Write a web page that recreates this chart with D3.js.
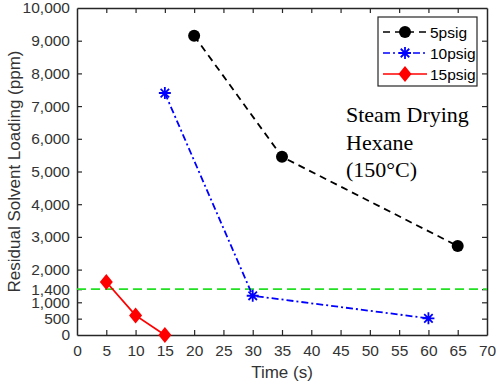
<!DOCTYPE html>
<html>
<head>
<meta charset="utf-8">
<script src="https://cdn.jsdelivr.net/npm/d3@7"></script>
<style>
  body { margin: 0; background: #fff; }
  svg { display: block; }
</style>
</head>
<body>
<svg id="chart"></svg>
<script>
const seriesNames = ["5psig", "10psig", "15psig"];
const time5 = [20, 35, 65];
const ppm5 = [9150, 5450, 2720];
const time10 = [15, 30, 60];
const ppm10 = [7400, 1200, 510];
const time15 = [5, 10, 15];
const ppm15 = [1620, 600, 0];
const limitPpm = 1400;
const xTicks = [0, 5, 10, 15, 20, 25, 30, 35, 40, 45, 50, 55, 60, 65, 70];
const yTicks = [0, 500, 1000, 1400, 2000, 3000, 4000, 5000, 6000, 7000, 8000, 9000, 10000];

const width = 498, height = 384;
const margin = { top: 8, right: 11, bottom: 49, left: 77 };

const svg = d3.select("#chart").attr("width", width).attr("height", height);

const x = d3.scaleLinear().domain([0, 70]).range([margin.left, width - margin.right]);
const y = d3.scaleLinear().domain([0, 10000]).range([height - margin.bottom, margin.top]);

const axisColor = "#262626";
const sans = "Arial, 'Liberation Sans', sans-serif";
const fmt = d3.format(",");

// box axes
const gx = svg.append("g").attr("transform", `translate(0,${y(0)})`)
  .call(d3.axisBottom(x).tickValues(xTicks).tickSizeInner(-5).tickSizeOuter(0).tickPadding(10));
const gxTop = svg.append("g").attr("transform", `translate(0,${y(10000)})`)
  .call(d3.axisTop(x).tickValues(xTicks).tickSizeInner(-5).tickSizeOuter(0).tickFormat(""));
const gy = svg.append("g").attr("transform", `translate(${x(0)},0)`)
  .call(d3.axisLeft(y).tickValues(yTicks).tickSizeInner(-5).tickSizeOuter(0).tickPadding(7).tickFormat(fmt));
const gyRight = svg.append("g").attr("transform", `translate(${x(70)},0)`)
  .call(d3.axisRight(y).tickValues(yTicks).tickSizeInner(-5).tickSizeOuter(0).tickFormat(""));

[gx, gxTop, gy, gyRight].forEach(g => {
  g.select(".domain").attr("stroke", axisColor).attr("stroke-width", 1.5);
  g.selectAll(".tick line").attr("stroke", axisColor).attr("stroke-width", 1.2);
  g.selectAll("text").attr("fill", "#333").style("font-family", sans).style("font-size", "15.5px");
});
gy.selectAll(".tick").filter(d => d === 0 || d === 10000).select("line").remove();
gyRight.selectAll(".tick").filter(d => d === 0 || d === 10000).select("line").remove();
gx.selectAll(".tick").filter(d => d === 0 || d === 70).select("line").remove();
gxTop.selectAll(".tick").filter(d => d === 0 || d === 70).select("line").remove();

// axis titles
svg.append("text")
  .attr("x", x(35)).attr("y", 378)
  .attr("text-anchor", "middle")
  .attr("fill", "#333")
  .style("font-family", sans).style("font-size", "17px")
  .text("Time (s)");
svg.append("text")
  .attr("transform", `translate(20,${(y(0) + y(10000)) / 2}) rotate(-90)`)
  .attr("text-anchor", "middle")
  .attr("fill", "#333")
  .style("font-family", sans).style("font-size", "17px")
  .text("Residual Solvent Loading (ppm)");

// limit line
svg.append("line")
  .attr("x1", x(0)).attr("x2", x(70))
  .attr("y1", y(limitPpm)).attr("y2", y(limitPpm))
  .attr("stroke", "#22e022").attr("stroke-width", 1.7)
  .attr("stroke-dasharray", "9,5");

const series = [
  { name: seriesNames[0], t: time5, v: ppm5, color: "#000", dash: "7,5", marker: "circle" },
  { name: seriesNames[1], t: time10, v: ppm10, color: "#0000ff", dash: "7,3,2,3", marker: "star" },
  { name: seriesNames[2], t: time15, v: ppm15, color: "#ff0000", dash: null, marker: "diamond" }
];

const line = d3.line().x(d => x(d[0])).y(d => y(d[1]));

function drawMarker(g, type, color) {
  if (type === "circle") {
    g.append("circle").attr("r", 6).attr("fill", color);
  } else if (type === "diamond") {
    g.append("path").attr("d", "M0,-8L6.5,0L0,8L-6.5,0Z").attr("fill", color);
  } else {
    const s = 6;
    const p = [];
    for (let i = 0; i < 4; i++) {
      const a = i * Math.PI / 4;
      p.push(`M${-s * Math.cos(a)},${-s * Math.sin(a)}L${s * Math.cos(a)},${s * Math.sin(a)}`);
    }
    g.append("path").attr("d", p.join("")).attr("stroke", color).attr("stroke-width", 1.8).attr("fill", "none");
  }
}

series.forEach(s => {
  const pts = s.t.map((t, i) => [t, s.v[i]]);
  svg.append("path")
    .datum(pts)
    .attr("d", line)
    .attr("fill", "none")
    .attr("stroke", s.color)
    .attr("stroke-width", 1.8)
    .attr("stroke-dasharray", s.dash);
  pts.forEach(p => {
    const g = svg.append("g").attr("transform", `translate(${x(p[0])},${y(p[1])})`);
    drawMarker(g, s.marker, s.color);
  });
});

// legend
const lg = svg.append("g").attr("transform", "translate(378,17)");
lg.append("rect").attr("width", 99).attr("height", 69)
  .attr("fill", "#fff").attr("stroke", "#262626").attr("stroke-width", 1.2);
series.forEach((s, i) => {
  const yy = 15 + i * 21;
  lg.append("line").attr("x1", 5).attr("x2", 49).attr("y1", yy).attr("y2", yy)
    .attr("stroke", s.color).attr("stroke-width", 1.6).attr("stroke-dasharray", s.dash);
  const g = lg.append("g").attr("transform", `translate(27,${yy})`);
  drawMarker(g, s.marker, s.color);
  lg.append("text").attr("x", 52).attr("y", yy + 5.5)
    .attr("fill", "#000")
    .style("font-family", sans).style("font-size", "15.5px")
    .text(s.name);
});

// annotation
const ann = svg.append("text")
  .attr("fill", "#000")
  .style("font-family", "'Liberation Serif', 'Times New Roman', serif").style("font-size", "22px");
["Steam Drying", "Hexane", "(150°C)"].forEach((t, i) => {
  ann.append("tspan").attr("x", 346).attr("y", 122 + i * 27.5).text(t);
});
</script>
</body>
</html>
